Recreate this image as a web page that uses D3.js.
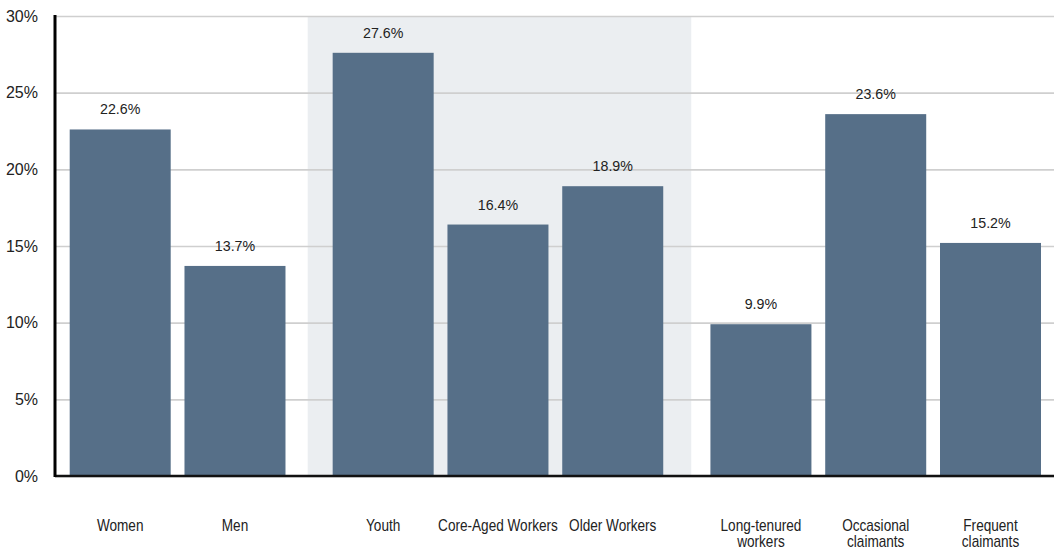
<!DOCTYPE html>
<html><head><meta charset="utf-8">
<script src="https://cdn.jsdelivr.net/npm/d3@7"></script>
<style>
html,body{margin:0;padding:0;background:#fff;}
svg{display:block;}
</style></head>
<body>
<svg id="chart" width="1054" height="550"></svg>
<script>
const categories = ["Women","Men","Youth","Core-Aged Workers","Older Workers","Long-tenured workers","Occasional claimants","Frequent claimants"];
const groups = [0,0,1,1,1,2,2,2];
const values = [22.6,13.7,27.6,16.4,18.9,9.9,23.6,15.2];
const labelLines = [["Women"],["Men"],["Youth"],["Core-Aged Workers"],["Older Workers"],["Long-tenured","workers"],["Occasional","claimants"],["Frequent","claimants"]];
const yTicks = [0,5,10,15,20,25,30];
const highlightedGroup = 1;

const svg = d3.select("#chart");
const W = 1054, H = 550;
const m = {left:55, right:0, top:16, bottom:74};
const y = d3.scaleLinear().domain([0,30]).range([H-m.bottom, m.top]);

// slot positions: index plus group gap
const gapFrac = 0.291;
const slot = categories.map((c,i)=> i + groups[i]*gapFrac);
const x = d3.scaleLinear().domain([0, 7 + 2*gapFrac]).range([120.2, 990.5]);
const bw = 101;

// highlighted group background
const hIdx = categories.map((c,i)=>i).filter(i=>groups[i]===highlightedGroup);
const hx0 = x(slot[hIdx[0]]) - bw/2 - 25;
const hx1 = x(slot[hIdx[hIdx.length-1]]) + bw/2 + 28;
svg.append("rect").attr("x",hx0).attr("y",y(30)).attr("width",hx1-hx0).attr("height",y(0)-y(30)).attr("fill","#ebeef1");

// gridlines
const yAxis = d3.axisLeft(y).tickValues(yTicks).tickSize(-(W-m.left)).tickFormat(d=>d+"%");
const ga = svg.append("g").attr("transform",`translate(${m.left},0)`).call(yAxis);
ga.select(".domain").remove();
ga.selectAll(".tick line").attr("stroke","#cfcfcf").attr("stroke-width",1.6);
ga.selectAll(".tick text").attr("x",-17).attr("fill","#222").style("font-family","'Liberation Sans',Arial,sans-serif").style("font-size","16px");

// bars
svg.selectAll("rect.bar").data(values).join("rect").attr("class","bar")
  .attr("x",(d,i)=>x(slot[i])-bw/2).attr("width",bw)
  .attr("y",d=>y(d)).attr("height",d=>y(0)-y(d)).attr("fill","#566f88");

// value labels
svg.selectAll("text.val").data(values).join("text").attr("class","val")
  .attr("text-anchor","middle").attr("fill","#222")
  .attr("transform",(d,i)=>`translate(${x(slot[i])},${y(d)-15}) scale(0.95,1)`)
  .style("font-family","'Liberation Sans',Arial,sans-serif").style("font-size","15px")
  .text(d=>d.toFixed(1)+"%");

// axes lines
svg.append("line").attr("x1",m.left).attr("x2",W).attr("y1",y(0)).attr("y2",y(0)).attr("stroke","#111").attr("stroke-width",2.5);
svg.append("line").attr("x1",m.left).attr("x2",m.left).attr("y1",y(30)-1).attr("y2",y(0)+1).attr("stroke","#000").attr("stroke-width",3);

// category labels (condensed look)
const cl = svg.selectAll("text.cat").data(labelLines).join("text").attr("class","cat")
  .attr("text-anchor","middle").attr("fill","#222")
  .style("font-family","'Liberation Sans',Arial,sans-serif").style("font-size","16px")
  .attr("transform",(d,i)=>`translate(${x(slot[i])},531) scale(0.85,1)`);
cl.selectAll("tspan").data(d=>d).join("tspan").attr("x",0).attr("dy",(d,j)=>j===0?0:16.5).text(d=>d);
</script>
</body></html>
